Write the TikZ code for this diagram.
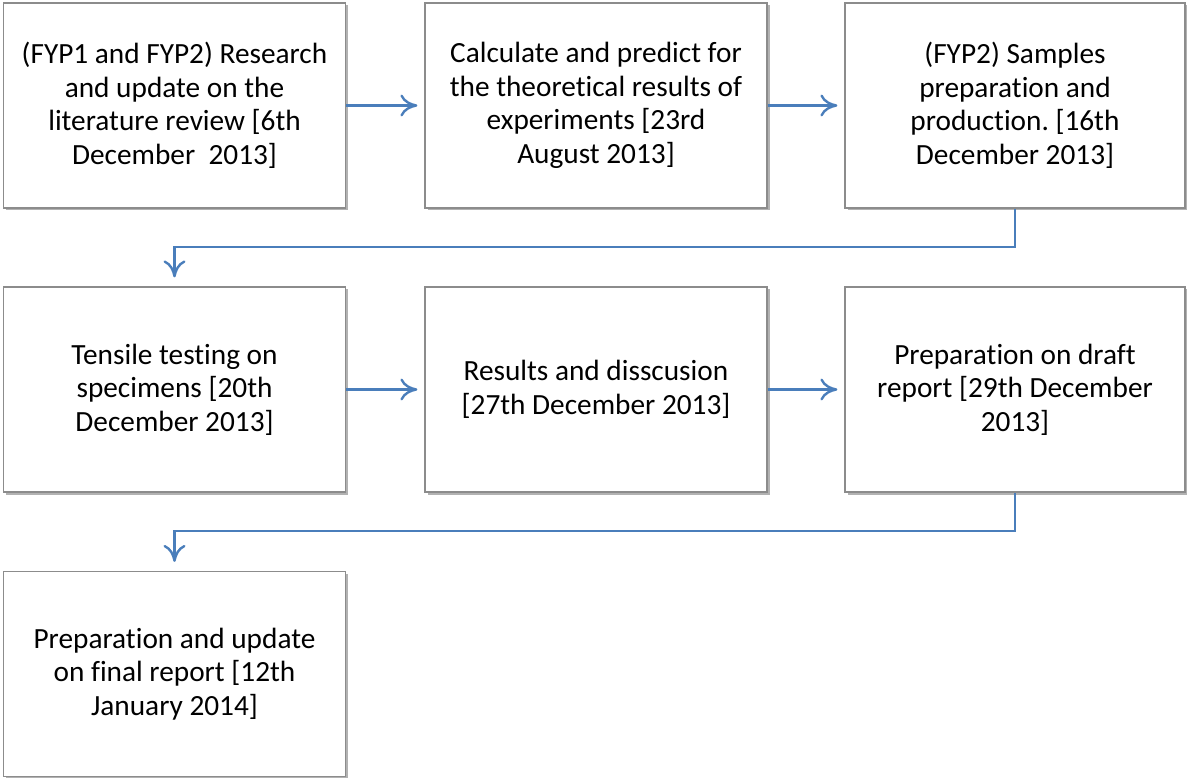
\documentclass[tikz,border=0pt]{standalone}
\usepackage{fontspec}
\setmainfont[RawFeature=-liga]{Carlito}
\usetikzlibrary{arrows.meta,shadows,positioning}
\definecolor{arrowblue}{HTML}{4A7EBB}
\definecolor{boxgray}{HTML}{8C8C8C}
\frenchspacing
\tikzset{
  stepbox/.style={draw=boxgray, line width=1.2pt, fill=white, rectangle,
    minimum width=342pt, minimum height=205pt, align=center, inner sep=0pt,
    font=\fontsize{29.3}{33.5}\selectfont,
    drop shadow={shadow xshift=2.5pt, shadow yshift=-2.5pt, opacity=0.3, fill=black}},
  flow/.style={draw=arrowblue, line width=2.4pt, -{To[length=17pt,width=22pt,line width=2.4pt]}}
}
\begin{document}
\begin{tikzpicture}[x=1pt,y=-1pt]
\useasboundingbox (0,0) rectangle (1187,778);
\node[stepbox] (a) at (174.5,105.5) {(FYP1 and FYP2) Research\\and update on the\\literature review [6th\\December\ \ 2013]};
\node[stepbox] (b) at (596,105.5) {Calculate and predict for\\the theoretical results of\\experiments [23rd\\August 2013]};
\node[stepbox, minimum width=340pt] (c) at (1015,105.5) {(FYP2) Samples\\preparation and\\production. [16th\\December 2013]};
\node[stepbox] (d) at (174.5,389.5) {Tensile testing on\\specimens [20th\\December 2013]};
\node[stepbox] (e) at (596,389.5) {Results and disscusion\\{[27th December 2013]}};
\node[stepbox, minimum width=340pt] (f) at (1015,389.5) {Preparation on draft\\report [29th December\\2013]};
\node[stepbox] (g) at (174.5,674) {Preparation and update\\on final report [12th\\January 2014]};
\coordinate (k1) at (1015,247);
\coordinate (k2) at (174.5,247);
\coordinate (k3) at (1015,531);
\coordinate (k4) at (174.5,531);
\draw[flow, shorten >=7pt] (a.east) -- (b.west);
\draw[flow, shorten >=7pt] (b.east) -- (c.west);
\draw[flow, shorten >=7pt] (d.east) -- (e.west);
\draw[flow, shorten >=7pt] (e.east) -- (f.west);
\draw[flow, shorten >=9pt] (c.south) -- (k1) -- (k2) -- (d.north);
\draw[flow, shorten >=9pt] (f.south) -- (k3) -- (k4) -- (g.north);
\end{tikzpicture}
\end{document}
